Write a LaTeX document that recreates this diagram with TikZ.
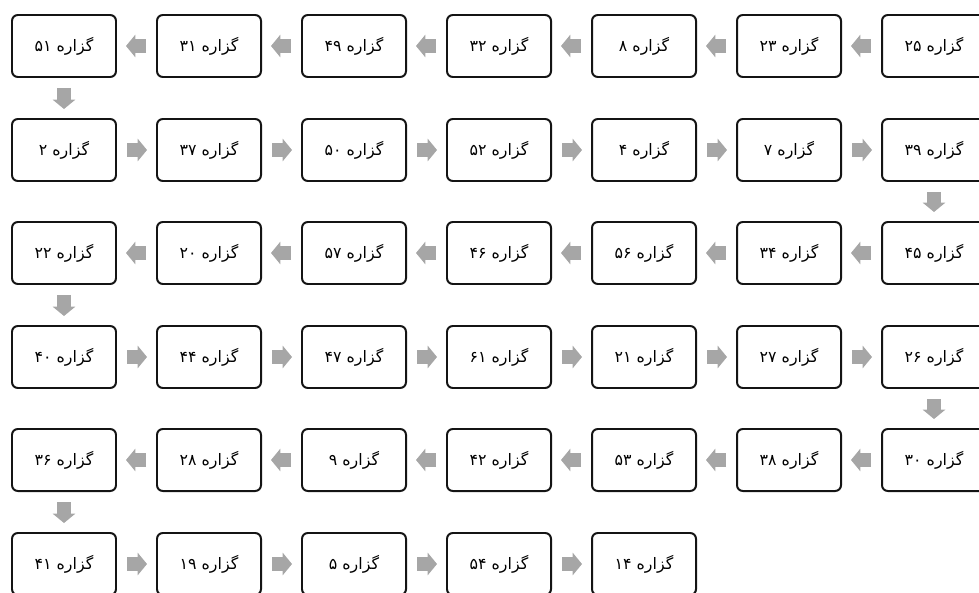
\documentclass[tikz,border=0pt]{standalone}
\usepackage{fontspec}
\usepackage{tikz}
\usetikzlibrary{arrows.meta}
\TeXXeTstate=1
\newfontfamily\arabicfont[Script=Arabic]{DejaVu Sans}
\definecolor{acol}{HTML}{A6A6A6}
\definecolor{bcol}{HTML}{141414}
\newcommand{\gz}[1]{\arabicfont\beginR گزاره #1\endR}

\begin{document}
\begin{tikzpicture}[x=0.03cm, y=-0.03cm,
  box/.style={draw=bcol, line width=1.7pt, rounded corners=5pt, fill=white,
    minimum width=3.12cm, minimum height=1.86cm, inner sep=0pt,
    font=\fontsize{13.5}{16}\selectfont},
  flow/.style={acol, line width=0.42cm,
    -{Triangle[length=0.28cm, width=0.68cm, line width=0pt]},
    shorten <=0.3cm, shorten >=0.27cm}]
\useasboundingbox (0,0) rectangle (979,593);
\clip (0,0) rectangle (979,593);
% row 1
\node[box] (g25) at (934,46) {\gz{۲۵}};
\node[box] (g23) at (789,46) {\gz{۲۳}};
\node[box] (g8)  at (644,46) {\gz{۸}};
\node[box] (g32) at (499,46) {\gz{۳۲}};
\node[box] (g49) at (354,46) {\gz{۴۹}};
\node[box] (g31) at (209,46) {\gz{۳۱}};
\node[box] (g51) at (64,46)  {\gz{۵۱}};
% row 2
\node[box] (g2)  at (64,150)  {\gz{۲}};
\node[box] (g37) at (209,150) {\gz{۳۷}};
\node[box] (g50) at (354,150) {\gz{۵۰}};
\node[box] (g52) at (499,150) {\gz{۵۲}};
\node[box] (g4)  at (644,150) {\gz{۴}};
\node[box] (g7)  at (789,150) {\gz{۷}};
\node[box] (g39) at (934,150) {\gz{۳۹}};
% row 3
\node[box] (g45) at (934,253) {\gz{۴۵}};
\node[box] (g34) at (789,253) {\gz{۳۴}};
\node[box] (g56) at (644,253) {\gz{۵۶}};
\node[box] (g46) at (499,253) {\gz{۴۶}};
\node[box] (g57) at (354,253) {\gz{۵۷}};
\node[box] (g20) at (209,253) {\gz{۲۰}};
\node[box] (g22) at (64,253)  {\gz{۲۲}};
% row 4
\node[box] (g40) at (64,357)  {\gz{۴۰}};
\node[box] (g44) at (209,357) {\gz{۴۴}};
\node[box] (g47) at (354,357) {\gz{۴۷}};
\node[box] (g61) at (499,357) {\gz{۶۱}};
\node[box] (g21) at (644,357) {\gz{۲۱}};
\node[box] (g27) at (789,357) {\gz{۲۷}};
\node[box] (g26) at (934,357) {\gz{۲۶}};
% row 5
\node[box] (g30) at (934,460) {\gz{۳۰}};
\node[box] (g38) at (789,460) {\gz{۳۸}};
\node[box] (g53) at (644,460) {\gz{۵۳}};
\node[box] (g42) at (499,460) {\gz{۴۲}};
\node[box] (g9)  at (354,460) {\gz{۹}};
\node[box] (g28) at (209,460) {\gz{۲۸}};
\node[box] (g36) at (64,460)  {\gz{۳۶}};
% row 6
\node[box] (g41) at (64,564)  {\gz{۴۱}};
\node[box] (g19) at (209,564) {\gz{۱۹}};
\node[box] (g5)  at (354,564) {\gz{۵}};
\node[box] (g54) at (499,564) {\gz{۵۴}};
\node[box] (g14) at (644,564) {\gz{۱۴}};
% the chain
\foreach \a/\b in {g25/g23, g23/g8, g8/g32, g32/g49, g49/g31, g31/g51, g51/g2,
    g2/g37, g37/g50, g50/g52, g52/g4, g4/g7, g7/g39, g39/g45,
    g45/g34, g34/g56, g56/g46, g46/g57, g57/g20, g20/g22, g22/g40,
    g40/g44, g44/g47, g47/g61, g61/g21, g21/g27, g27/g26, g26/g30,
    g30/g38, g38/g53, g53/g42, g42/g9, g9/g28, g28/g36, g36/g41,
    g41/g19, g19/g5, g5/g54, g54/g14}
  \draw[flow] (\a) -- (\b);
\end{tikzpicture}
\end{document}
